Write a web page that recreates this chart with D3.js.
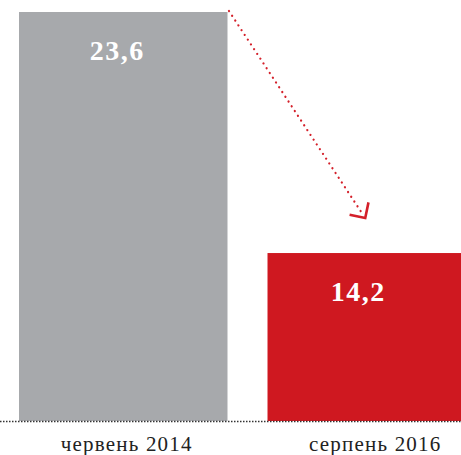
<!DOCTYPE html>
<html>
<head>
<meta charset="utf-8">
<script src="https://cdn.jsdelivr.net/npm/d3@7"></script>
<style>
  body { margin: 0; background: #fff; }
  svg { display: block; }
</style>
</head>
<body>
<svg></svg>
<script>
const categories = ['червень 2014', 'серпень 2016'];
const values = [23.6, 14.2];
const valueLabels = ['23,6', '14,2'];
const barColors = ['#a7a9ac', '#cf1820'];

const size = {w: 461, h: 455};
const svg = d3.select('svg')
    .attr('width', size.w)
    .attr('height', size.h);

const baseY = 421;

const x = d3.scaleBand()
    .domain(categories)
    .range([19, 476])
    .paddingInner(0.161)
    .paddingOuter(0);

const y = d3.scaleLinear()
    .domain([7.65, 23.6])
    .range([baseY, 12]);

// bars
svg.selectAll('rect.bar')
    .data(values)
    .enter()
    .append('rect')
    .attr('class', 'bar')
    .attr('x', (d, i) => x(categories[i]))
    .attr('y', d => y(d))
    .attr('width', x.bandwidth())
    .attr('height', d => baseY - y(d))
    .attr('fill', (d, i) => barColors[i]);

// centre of the visible part of each bar
function visCenter (i) {
    let x0 = x(categories[i]),
        x1 = Math.min(x0 + x.bandwidth(), size.w);
    return (x0 + x1) / 2;
}

// value labels
svg.selectAll('text.value')
    .data(values)
    .enter()
    .append('text')
    .attr('class', 'value')
    .attr('x', (d, i) => visCenter(i) - 6)
    .attr('y', d => y(d) + 48)
    .attr('text-anchor', 'middle')
    .attr('fill', '#fff')
    .style('font-family', '"Liberation Serif", serif')
    .style('font-weight', 'bold')
    .style('font-size', '28px')
    .style('letter-spacing', '1.5px')
    .text((d, i) => valueLabels[i]);

// dotted baseline
svg.append('line')
    .attr('x1', 0)
    .attr('x2', size.w)
    .attr('y1', baseY + 0.5)
    .attr('y2', baseY + 0.5)
    .attr('stroke', '#333')
    .attr('stroke-width', 1.3)
    .attr('stroke-dasharray', '1.5,1.5');

// category labels
svg.selectAll('text.cat')
    .data(categories)
    .enter()
    .append('text')
    .attr('class', 'cat')
    .attr('x', d => x(d) + x.bandwidth() / 2 + 3.5)
    .attr('y', 451)
    .attr('text-anchor', 'middle')
    .attr('fill', '#222')
    .style('font-family', '"Liberation Serif", serif')
    .style('font-size', '21px')
    .style('letter-spacing', '1.2px')
    .text(d => d);

// dotted arrow from first bar to second
let ax0 = x(categories[0]) + x.bandwidth() + 1.5,
    ay0 = y(values[0]) - 1,
    ax1 = visCenter(1) + 1,
    ay1 = y(values[1]) - 35;

svg.append('line')
    .attr('x1', ax0)
    .attr('y1', ay0)
    .attr('x2', ax1 - 2)
    .attr('y2', ay1 - 3)
    .attr('stroke', '#d4202a')
    .attr('stroke-width', 2.2)
    .attr('stroke-linecap', 'round')
    .attr('stroke-dasharray', '0.1,5.6');

let ang = Math.atan2(ay1 - ay0, ax1 - ax0),
    armLen = 16,
    spread = Math.PI / 4;
let p1 = [ax1 - armLen * Math.cos(ang - spread), ay1 - armLen * Math.sin(ang - spread)],
    p2 = [ax1 - armLen * Math.cos(ang + spread), ay1 - armLen * Math.sin(ang + spread)];

svg.append('path')
    .attr('d', d3.line()([p1, [ax1, ay1], p2]))
    .attr('fill', 'none')
    .attr('stroke', '#d4202a')
    .attr('stroke-width', 2.6)
    .attr('stroke-linejoin', 'miter');
</script>
</body>
</html>
